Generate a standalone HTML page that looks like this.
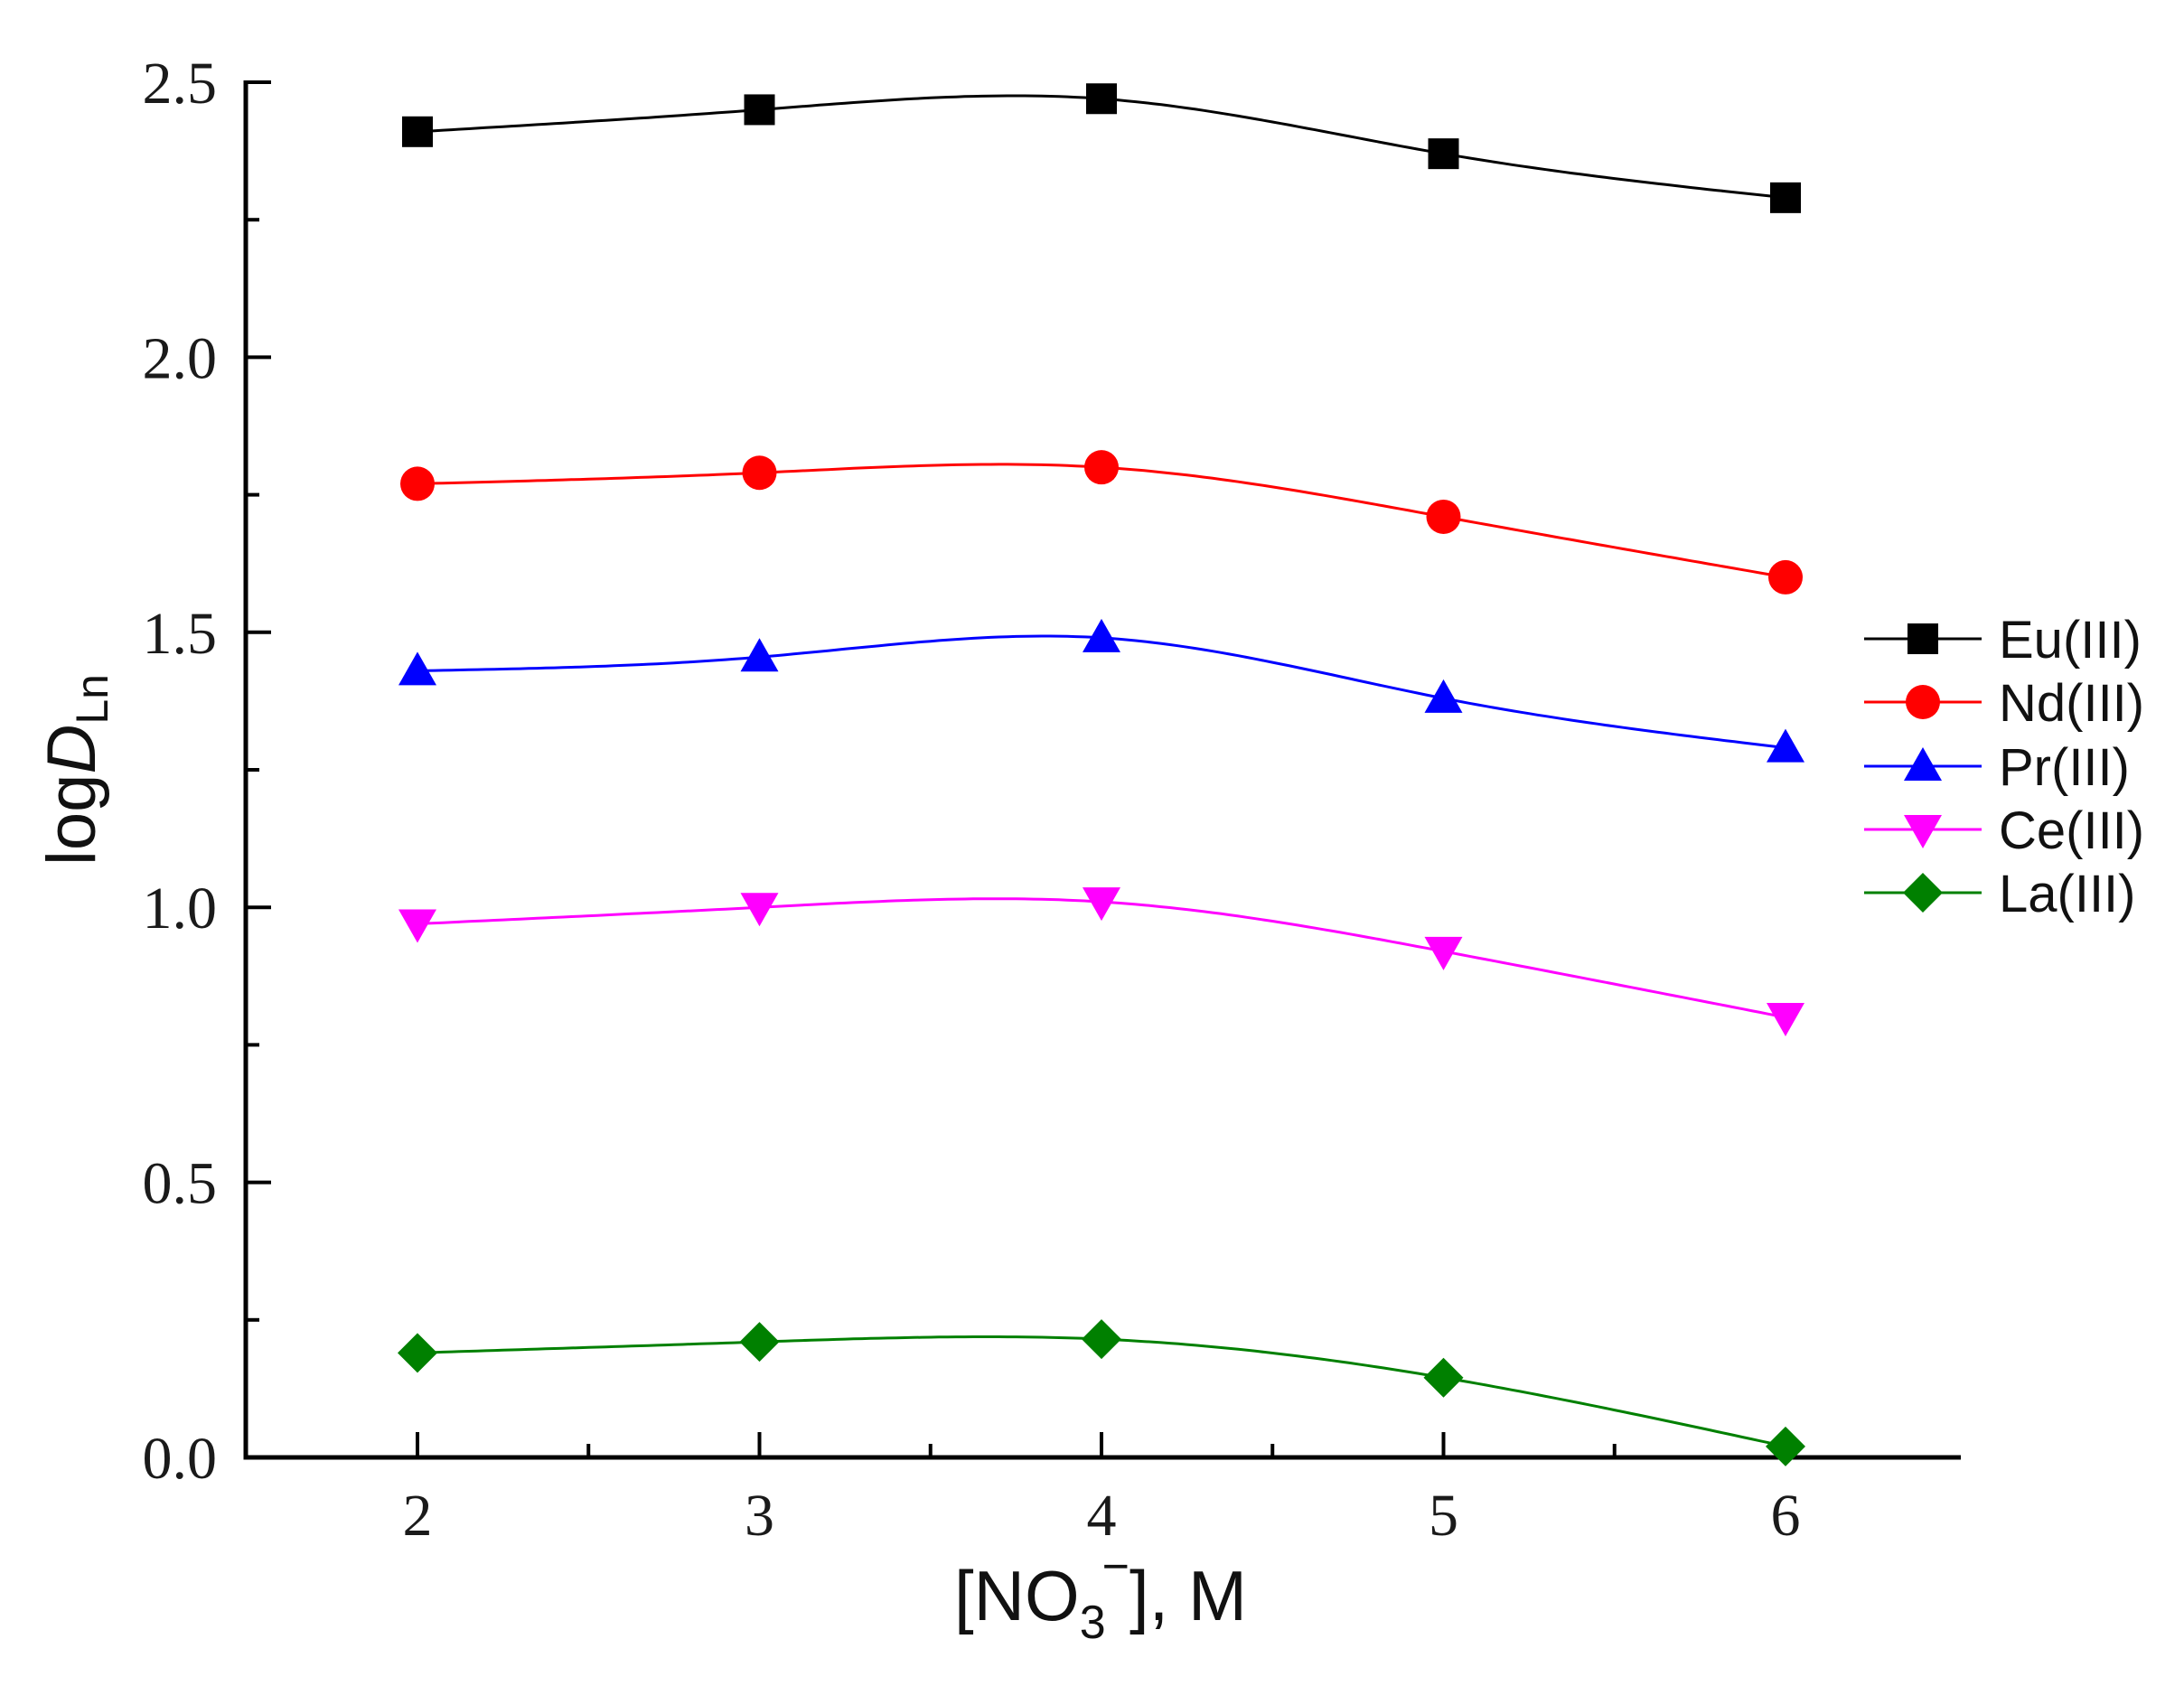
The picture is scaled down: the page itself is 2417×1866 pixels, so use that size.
<!DOCTYPE html>
<html><head><meta charset="utf-8"><style>
html,body{margin:0;padding:0;background:#fff;}
svg{display:block;}
</style></head><body>
<svg id="s" xmlns="http://www.w3.org/2000/svg" width="2417" height="1866" viewBox="0 0 2417 1866">
<rect width="2417" height="1866" fill="#fff"/>
<g id="axes" stroke="#000" stroke-width="5" fill="none">
<path d="M272,89 L272,1613 L2170,1613"/>
</g>
<g id="ticks" stroke="#000" stroke-width="4"></g>
<g font-family="Liberation Serif, serif" font-size="66" fill="#1a1a1a" id="labels"></g>
<g id="series"></g>
<g id="legend"></g>
<text x="1218" y="1793" font-family="Liberation Sans, sans-serif" font-size="78" text-anchor="middle" fill="#111">[NO<tspan font-size="52" dy="20">3</tspan><tspan font-size="52" dy="-62" dx="-4">−</tspan><tspan dy="42">], M</tspan></text>
<text transform="translate(105,852) rotate(-90)" font-family="Liberation Sans, sans-serif" font-size="76" text-anchor="middle" fill="#111">log<tspan font-style="italic">D</tspan><tspan font-size="50" dy="14">Ln</tspan></text>
</svg>
<script>
var NS="http://www.w3.org/2000/svg";
function X(v){return 462+(v-2)*378.5;}
function Y(v){return 1613-v*608.8;}
function el(tag,attrs,parent,txt){var e=document.createElementNS(NS,tag);for(var k in attrs)e.setAttribute(k,attrs[k]);if(txt!==undefined)e.textContent=txt;document.getElementById(parent).appendChild(e);return e;}
for(var i=0;i<=10;i++){var v=i*0.25,y=Y(v),len=(i%2==0)?28:15;
 if(i>0)el('line',{x1:272,y1:y,x2:272+len,y2:y},'ticks');
 if(i%2==0)el('text',{x:240,y:y+23,'text-anchor':'end'},'labels',v.toFixed(1));}
for(var j=0;j<=10;j++){var v=1.5+j*0.5,x=X(v);if(x<280||x>2165)continue;var major=(j%2==1);
 el('line',{x1:x,y1:1613,x2:x,y2:1613-(major?28:15)},'ticks');
 if(major)el('text',{x:x,y:1699,'text-anchor':'middle'},'labels',String(v));}
var data=[
 ['#000','sq',[2.41,2.45,2.47,2.37,2.29],'Eu(III)'],
 ['#ff0000','ci',[1.77,1.79,1.80,1.71,1.60],'Nd(III)'],
 ['#0000ff','tu',[1.43,1.455,1.49,1.38,1.29],'Pr(III)'],
 ['#ff00ff','td',[0.97,1.00,1.01,0.92,0.80],'Ce(III)'],
 ['#008000','di',[0.19,0.21,0.215,0.145,0.02],'La(III)']];
function marker(t,x,y,c,p){
 if(t=='sq')el('rect',{x:x-17,y:y-17,width:34,height:34,fill:c},p);
 else if(t=='ci')el('circle',{cx:x,cy:y,r:19,fill:c},p);
 else if(t=='tu')el('polygon',{points:(x-21)+','+(y+16)+' '+(x+21)+','+(y+16)+' '+x+','+(y-21),fill:c},p);
 else if(t=='td')el('polygon',{points:(x-21)+','+(y-16)+' '+(x+21)+','+(y-16)+' '+x+','+(y+21),fill:c},p);
 else el('polygon',{points:x+','+(y-22)+' '+(x+22)+','+y+' '+x+','+(y+22)+' '+(x-22)+','+y,fill:c},p);}
function spline(ys){ // natural cubic, unit spacing
 var n=ys.length,M=new Array(n).fill(0),a=[],b=[],c=[],d=[];
 for(var i=1;i<n-1;i++){a.push(1);b.push(4);c.push(1);d.push(6*(ys[i+1]-2*ys[i]+ys[i-1]));}
 var m=d.length;for(var i=1;i<m;i++){var w=a[i]/b[i-1];b[i]-=w*c[i-1];d[i]-=w*d[i-1];}
 var sol=new Array(m);sol[m-1]=d[m-1]/b[m-1];for(var i=m-2;i>=0;i--)sol[i]=(d[i]-c[i]*sol[i+1])/b[i];
 for(var i=0;i<m;i++)M[i+1]=sol[i];
 var out=[];for(var i=0;i<n-1;i++)for(var s=0;s<40;s++){var t=s/40;
  var v=(1-t)*ys[i]+t*ys[i+1]+((Math.pow(1-t,3)-(1-t))*M[i]+(t*t*t-t)*M[i+1])/6;out.push([2+i+t,v]);}
 out.push([2+n-1,ys[n-1]]);return out;}
var ly=[707,777,848,918,988];
data.forEach(function(d,k){
 var s=spline(d[2]).map(function(p,i){return (i?'L':'M')+X(p[0]).toFixed(1)+','+Y(p[1]).toFixed(1);}).join(' ');
 el('path',{d:s,stroke:d[0],'stroke-width':3,fill:'none'},'series');
 d[2].forEach(function(v,i){marker(d[1],X(2+i),Y(v),d[0],'series');});
 el('line',{x1:2063,y1:ly[k],x2:2193,y2:ly[k],stroke:d[0],'stroke-width':3},'legend');
 marker(d[1],2128,ly[k],d[0],'legend');
 el('text',{x:2212,y:ly[k]+21,'font-family':'Liberation Sans, sans-serif','font-size':58,fill:'#111'},'legend',d[3]);
});
</script>
</body></html>
